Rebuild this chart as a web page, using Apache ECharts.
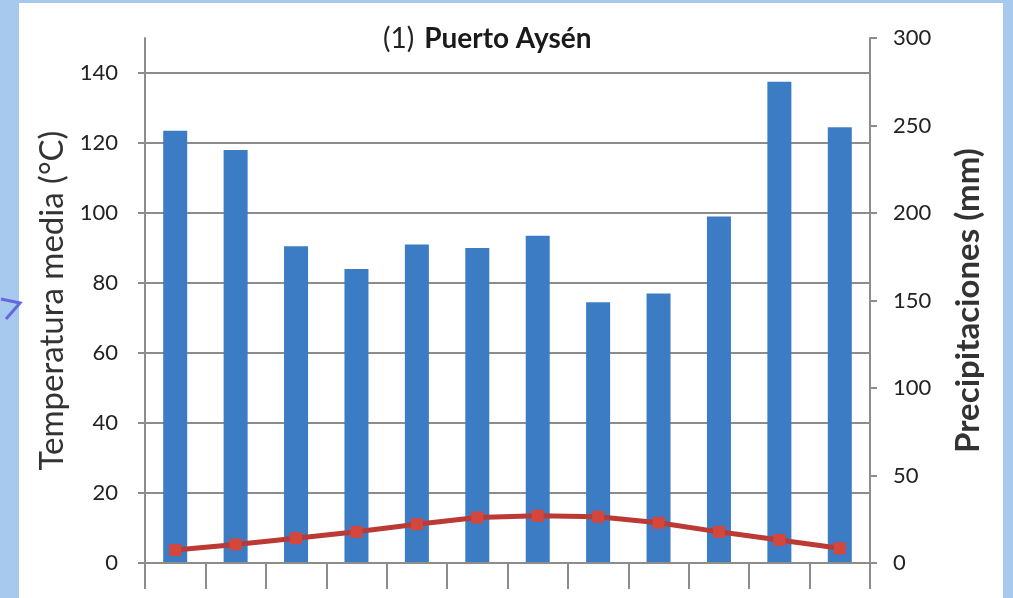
<!DOCTYPE html>
<html>
<head>
<meta charset="utf-8">
<style>
  html, body { margin: 0; padding: 0; background: #a7c9ee; }
  #chart { width: 1013px; height: 598px; }
</style>
<script src="https://cdn.jsdelivr.net/npm/echarts@6/dist/echarts.min.js"></script>
</head>
<body>
<div id="chart"></div>
<script>
// Climograma de Puerto Aysén: precipitación mensual (barras) y temperatura media (línea)
const months = ['E', 'F', 'M', 'A', 'M', 'J', 'J', 'A', 'S', 'O', 'N', 'D'];
const precipitation = [247, 236, 181, 168, 182, 180, 187, 149, 154, 198, 275, 249];
const temperature = [3.7, 5.3, 7.1, 8.9, 11.1, 13.0, 13.5, 13.2, 11.5, 8.9, 6.6, 4.2];
// temperature scale runs to 150, labelled every 20 up to 140
const tempMax = 150;
const tempLabelMax = 140;
const tempStep = 20;
const precMax = 300;
const precStep = 50;

const grey = '#8c8c8c';
const font = 'Lato, "Open Sans", sans-serif';

// plot area shared by both grids; the labelled grid stops at 140 on the same scale
const plotLeft = 145, plotRight = 143, plotTop = 38, plotBottom = 35;
const plotHeight = 598 - plotTop - plotBottom;
const labelledTop = plotTop + plotHeight * (tempMax - tempLabelMax) / tempMax;

const chart = echarts.init(document.getElementById('chart'), null, { renderer: 'canvas' });

chart.setOption({
  backgroundColor: '#a7c9ee',
  animation: false,
  graphic: [
    { type: 'rect', z: -10, shape: { x: 19, y: 3, width: 984, height: 600 },
      style: { fill: '#ffffff' } },
    { type: 'polyline', z: -5,
      shape: { points: [[1, 299], [20, 303], [6, 319]] },
      style: { stroke: '#6468e0', lineWidth: 3, fill: null } }
  ],
  title: {
    text: '{n|(1)}  {b|Puerto Aysén}',
    left: 378, top: 20,
    textStyle: {
      rich: {
        n: { fontFamily: font, fontSize: 28, fontWeight: 'normal', color: '#222' },
        b: { fontFamily: font, fontSize: 28, fontWeight: 'bold', color: '#1a1a1a' }
      }
    }
  },
  grid: [
    { left: plotLeft, right: plotRight, top: plotTop, bottom: plotBottom, containLabel: false },
    { left: plotLeft, right: plotRight, top: labelledTop, bottom: plotBottom, containLabel: false }
  ],
  xAxis: [
    {
      type: 'category',
      gridIndex: 0,
      data: months,
      boundaryGap: true,
      axisLine: { show: true, lineStyle: { color: grey, width: 2 } },
      axisTick: { show: true, interval: 0, length: 26, lineStyle: { color: grey, width: 2 } },
      axisLabel: { show: false },
      splitLine: { show: false },
      z: 4
    },
    {
      type: 'category',
      gridIndex: 1,
      data: months,
      show: false
    }
  ],
  yAxis: [
    {
      type: 'value',
      gridIndex: 0,
      min: 0, max: tempMax,
      position: 'left',
      name: 'Temperatura media (°C)',
      nameLocation: 'middle',
      nameGap: 76,
      nameTextStyle: { fontFamily: font, fontSize: 33, color: '#333' },
      axisLine: { show: true, lineStyle: { color: grey, width: 2 } },
      axisTick: { show: false },
      axisLabel: { show: false },
      splitLine: { show: false }
    },
    {
      type: 'value',
      gridIndex: 0,
      min: 0, max: precMax, interval: precStep,
      position: 'right',
      name: 'Precipitaciones (mm)',
      nameLocation: 'middle',
      nameGap: 82,
      nameRotate: 90,
      nameTextStyle: { fontFamily: font, fontSize: 33, fontWeight: 'bold', color: '#333' },
      axisLine: { show: true, lineStyle: { color: grey, width: 2 } },
      axisTick: { show: true, length: 7, lineStyle: { color: grey, width: 2 } },
      axisLabel: { margin: 23, fontFamily: font, fontSize: 22, color: '#222' },
      splitLine: { show: false }
    },
    {
      // labelled temperature scale with the horizontal gridlines
      type: 'value',
      gridIndex: 1,
      min: 0, max: tempLabelMax, interval: tempStep,
      position: 'left',
      axisLine: { show: false },
      axisTick: { show: true, length: 7, lineStyle: { color: grey, width: 2 } },
      axisLabel: { margin: 27, fontFamily: font, fontSize: 22, color: '#222' },
      splitLine: { show: true, lineStyle: { color: grey, width: 2 } }
    }
  ],
  series: [
    {
      name: 'Precipitaciones',
      type: 'bar',
      xAxisIndex: 0,
      yAxisIndex: 1,
      data: precipitation,
      barWidth: 24,
      itemStyle: { color: '#3b7cc4' },
      z: 2
    },
    {
      name: 'Temperatura media',
      type: 'line',
      xAxisIndex: 0,
      yAxisIndex: 0,
      data: temperature,
      symbol: 'rect',
      symbolSize: 12,
      lineStyle: { color: '#bb3a35', width: 5 },
      itemStyle: { color: '#d4473d' },
      z: 3
    }
  ]
});
</script>
</body>
</html>
